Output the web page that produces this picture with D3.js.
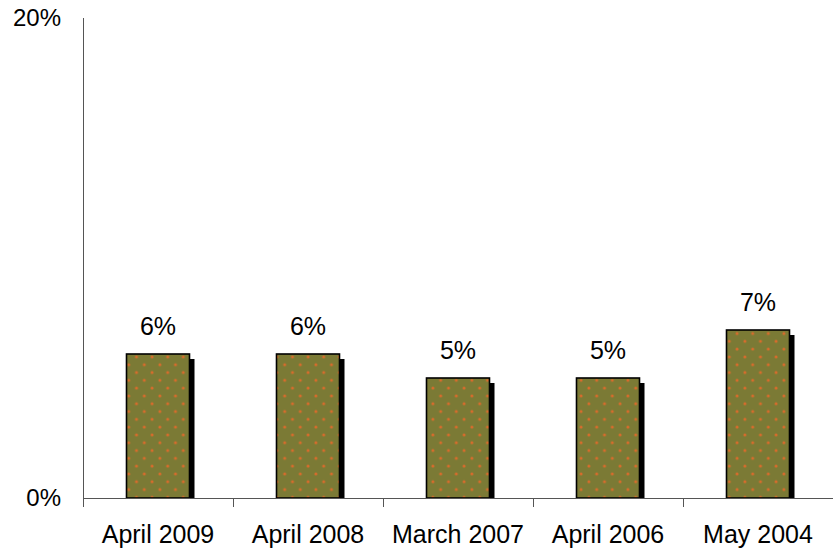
<!DOCTYPE html>
<html>
<head>
<meta charset="utf-8">
<script src="https://cdn.jsdelivr.net/npm/d3@7"></script>
<style>
  html, body { margin: 0; padding: 0; background: #ffffff; }
  svg { display: block; }
  text { font-family: "Liberation Sans", Arial, sans-serif; fill: #000; }
</style>
</head>
<body>
<svg id="chart" width="833" height="550"></svg>
<script>
const categories = ["April 2009", "April 2008", "March 2007", "April 2006", "May 2004"];
const values = [6, 6, 5, 5, 7];
const valueLabels = ["6%", "6%", "5%", "5%", "7%"];
const yTickValues = [0, 20];
const yTickLabels = ["0%", "20%"];

(function () {
const svg = d3.select("#chart");
const plotLeft = 83, plotRight = 833, plotTop = 18, plotBottom = 498;
const fs = 25;

const x = d3.scaleBand().domain(categories).range([plotLeft, plotRight]).padding(0);
const y = d3.scaleLinear().domain([0, 20]).range([plotBottom, plotTop]);

// pattern
const defs = svg.append("defs");
const pw = 15.6;
const pat = defs.append("pattern")
  .attr("id", "dots").attr("patternUnits", "userSpaceOnUse")
  .attr("width", pw).attr("height", pw)
  .attr("x", 0).attr("y", 2);
pat.append("rect").attr("width", pw).attr("height", pw).attr("fill", "#7b7a35");
[[pw/4, pw/4], [pw*3/4, pw*3/4]].forEach(([cx, cy]) => {
  pat.append("circle").attr("cx", cx).attr("cy", cy).attr("r", 1.5).attr("fill", "#e56a2a").attr("opacity", 0.9);
});

const bw = x.bandwidth();
const barW = bw * 0.42;

const g = svg.append("g");

// shadows
g.selectAll("rect.shadow").data(categories).join("rect")
  .attr("class", "shadow")
  .attr("x", (d) => x(d) + (bw - barW) / 2 + 5)
  .attr("y", (d, i) => y(values[i]) + 5)
  .attr("width", barW)
  .attr("height", (d, i) => plotBottom - y(values[i]) - 5)
  .attr("fill", "#000");

// bars
g.selectAll("rect.bar").data(categories).join("rect")
  .attr("class", "bar")
  .attr("x", (d) => x(d) + (bw - barW) / 2)
  .attr("y", (d, i) => y(values[i]))
  .attr("width", barW)
  .attr("height", (d, i) => plotBottom - y(values[i]))
  .attr("fill", "url(#dots)")
  .attr("stroke", "#000")
  .attr("stroke-width", 1.6);

// value labels
g.selectAll("text.val").data(categories).join("text")
  .attr("class", "val")
  .attr("x", (d) => x(d) + bw / 2)
  .attr("y", (d, i) => y(values[i]) - 19)
  .attr("text-anchor", "middle")
  .attr("font-size", fs)
  .text((d, i) => valueLabels[i]);

// y axis line
svg.append("line")
  .attr("x1", plotLeft + 0.5).attr("x2", plotLeft + 0.5)
  .attr("y1", y(20)).attr("y2", plotBottom)
  .attr("stroke", "#555").attr("stroke-width", 1);

// y tick labels
svg.selectAll("text.ytick").data(yTickValues).join("text")
  .attr("class", "ytick")
  .attr("x", 61)
  .attr("y", (d) => y(d))
  .attr("dy", "0.35em")
  .attr("text-anchor", "end")
  .attr("font-size", fs - 1)
  .text((d, i) => yTickLabels[i]);

// x axis line
svg.append("line")
  .attr("x1", plotLeft).attr("x2", plotRight)
  .attr("y1", plotBottom + 0.5).attr("y2", plotBottom + 0.5)
  .attr("stroke", "#555").attr("stroke-width", 1);

// x ticks at band boundaries
const boundaries = categories.map((c) => x(c));
svg.selectAll("line.xtick").data(boundaries).join("line")
  .attr("class", "xtick")
  .attr("x1", (d) => Math.round(d) + 0.5).attr("x2", (d) => Math.round(d) + 0.5)
  .attr("y1", plotBottom).attr("y2", plotBottom + 9)
  .attr("stroke", "#555").attr("stroke-width", 1);

// x tick labels
svg.selectAll("text.xlab").data(categories).join("text")
  .attr("class", "xlab")
  .attr("x", (d) => x(d) + bw / 2)
  .attr("y", 543)
  .attr("text-anchor", "middle")
  .attr("font-size", fs)
  .text((d) => d);
})();
</script>
</body>
</html>
